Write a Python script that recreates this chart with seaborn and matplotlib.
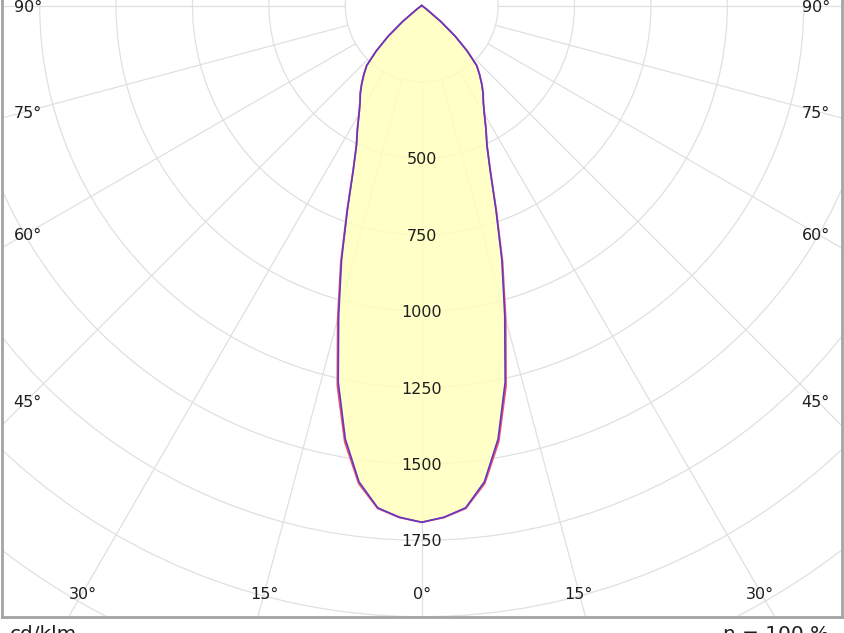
import numpy as np
import pandas as pd
import matplotlib
matplotlib.use("Agg")
import matplotlib.pyplot as plt
from matplotlib.patches import Circle
import seaborn as sns

# ---------------- data ----------------
gamma = [0, 2.5, 5, 7.5, 10, 12.5, 15, 17.5, 20, 22.5, 25, 27.5, 30, 32.5,
         35, 37.5, 40, 42.5, 45, 47.5, 50, 52.5, 55, 60, 70, 80, 90,
         100, 120, 140, 160, 180]
# C90-C270 plane (blue)
i_c90 = [1691, 1676, 1650, 1572, 1440, 1262, 1050, 872, 710, 586, 505, 455,
         410, 375, 350, 322, 294, 266, 210, 148, 80, 20, 0, 0, 0, 0, 0,
         0, 0, 0, 0, 0]
# C0-C180 plane (red)
i_c0 = [1691, 1677, 1652, 1578, 1450, 1275, 1062, 880, 714, 588, 506, 456,
        411, 376, 351, 323, 295, 267, 211, 149, 81, 21, 0, 0, 0, 0, 0,
        0, 0, 0, 0, 0]
ring_values = [250, 500, 750, 1000, 1250, 1500, 1750, 2000, 2250, 2500,
               2750, 3000, 3250]
ring_labels = [500, 750, 1000, 1250, 1500, 1750]
spoke_angles = [-90, -75, -60, -45, -30, -15, 0, 15, 30, 45, 60, 75, 90]
unit_label = "cd/klm"
eta_label = "η = 100 %"

# ---------------- layout (pixels) ----------------
W, H, DPI = 844, 633, 100
CX, CY = 421.7, 5.5          # pole position in pixels
PX_PER_CD = 0.3056
FL, FR, FB, FT = 2.0, 841.5, 617.0, -10.0   # frame box in pixels
TXT_DROP = 2.5 / PX_PER_CD   # small downward nudge of labels

sns.set_style("white")
plt.rcParams["font.family"] = ["DejaVu Sans"]

fig = plt.figure(figsize=(W / DPI, H / DPI), dpi=DPI)
ax = fig.add_axes([FL / W, (H - FB) / H, (FR - FL) / W, (FB - FT) / H])
ax.set_xlim((FL - CX) / PX_PER_CD, (FR - CX) / PX_PER_CD)
ax.set_ylim(-(FB - CY) / PX_PER_CD, -(FT - CY) / PX_PER_CD)
ax.set_xticks([])
ax.set_yticks([])
for side in ["left", "right", "bottom"]:
    ax.spines[side].set_color("#a4a4a4")
    ax.spines[side].set_linewidth(2.0)
ax.spines["top"].set_visible(False)

grid_col = "#e0e0e0"
# rings
for r in ring_values:
    ax.add_patch(Circle((0, 0), r, fill=False, ec=grid_col, lw=0.9, zorder=1))
# spokes
r_in, r_out = ring_values[0], 4000
for a in spoke_angles:
    t = np.deg2rad(a)
    ax.plot([r_in * np.sin(t), r_out * np.sin(t)],
            [-r_in * np.cos(t), -r_out * np.cos(t)],
            color=grid_col, lw=0.9, zorder=1)


def curve_xy(vals):
    g = np.array(gamma, dtype=float)
    v = np.array(vals, dtype=float)
    th = np.concatenate([-g[::-1], g[1:]])
    rr = np.concatenate([v[::-1], v[1:]])
    t = np.deg2rad(th)
    return pd.DataFrame({"x": rr * np.sin(t), "y": -rr * np.cos(t)})


d0 = curve_xy(i_c0)
d90 = curve_xy(i_c90)
ax.fill(d0["x"], d0["y"], color="#ffffbe", alpha=0.85, lw=0, zorder=2)
sns.lineplot(data=d0, x="x", y="y", sort=False, estimator=None, ax=ax,
             color="#f0506e", lw=1.3, zorder=3)
sns.lineplot(data=d90, x="x", y="y", sort=False, estimator=None, ax=ax,
             color="#6038c4", lw=1.2, zorder=4)
ax.set_xlabel("")
ax.set_ylabel("")

fs = 11.5
tc = "#1e1e1e"
# ring labels
for r in ring_labels:
    ax.text(0, -r - TXT_DROP * 0.6, str(r), ha="center", va="center",
            fontsize=fs, color=tc, zorder=5)

# angle labels
bottom_y_px = 592.0
side_x_px = 27.7
for a in spoke_angles:
    t = np.deg2rad(abs(a))
    sgn = 1 if a >= 0 else -1
    if abs(a) <= 30:
        dy = (bottom_y_px - CY) / PX_PER_CD
        x = sgn * dy * np.tan(t)
        y = -dy
    else:
        dx = (CX - side_x_px) / PX_PER_CD
        x = sgn * dx
        y = -dx / np.tan(t) if abs(a) < 90 else 0.0
    ax.text(x, y - TXT_DROP, f"{abs(a)}°", ha="center", va="center",
            fontsize=fs, color=tc, zorder=5)

fig.text(10 / W, 1 - 624.5 / H, unit_label, ha="left", va="top",
         fontsize=14.4, color=tc)
fig.text(829 / W, 1 - 624.5 / H, eta_label, ha="right", va="top",
         fontsize=14.4, color=tc)

fig.savefig("out.png", dpi=DPI)
